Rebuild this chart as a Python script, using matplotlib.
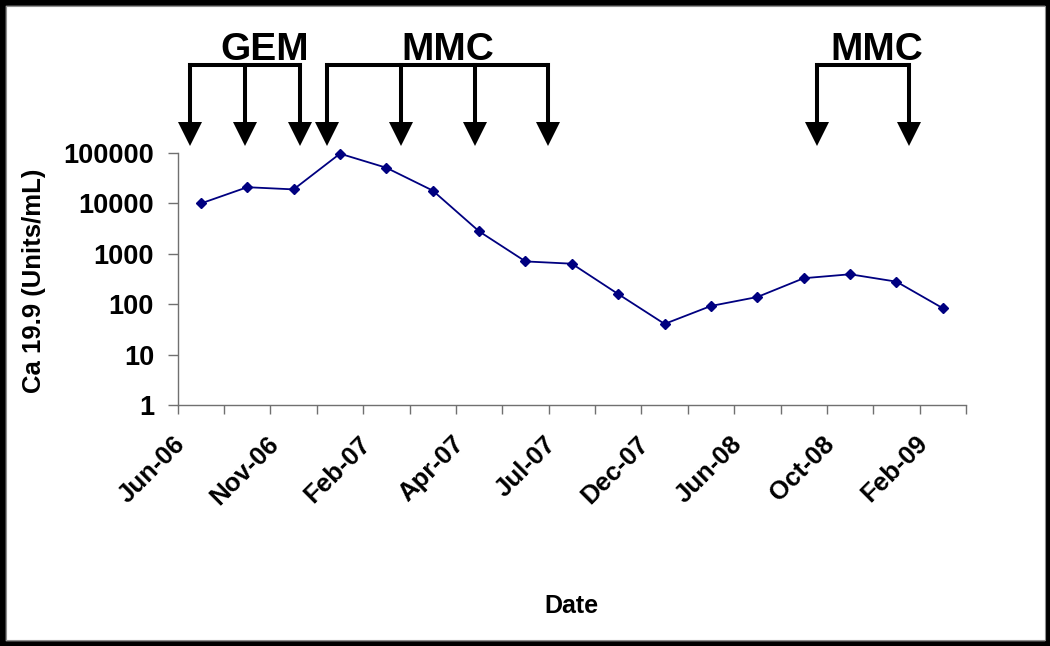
import numpy as np
import matplotlib
matplotlib.use("Agg")
import matplotlib.pyplot as plt
from matplotlib.transforms import blended_transform_factory, ScaledTranslation
from matplotlib.patches import Rectangle

# ---- data ----
ca199_values = [10000, 21000, 19000, 97000, 51000, 18000, 2800, 710, 640,
                160, 41, 93, 140, 330, 395, 282, 84]
date_labels = ["Jun-06", "Nov-06", "Feb-07", "Apr-07", "Jul-07",
               "Dec-07", "Jun-08", "Oct-08", "Feb-09"]
y_ticks = [1, 10, 100, 1000, 10000, 100000]
y_tick_labels = ["1", "10", "100", "1000", "10000", "100000"]
gem_doses = [-0.235, 0.957, 2.142]
mmc_doses_1 = [2.724, 4.312, 5.907, 7.496]
mmc_doses_2 = [13.29, 15.28]
regimen_names = ["GEM", "MMC", "MMC"]
regimen_label_x = [1.381, 5.315, 14.58]

FONT = "Liberation Sans"
plt.rcParams["font.family"] = [FONT, "DejaVu Sans"]
plt.rcParams["font.weight"] = "bold"

W, H = 1050, 646
fig = plt.figure(figsize=(W / 100, H / 100), dpi=100)
fig.patch.set_facecolor("white")

ax_l, ax_r, ax_t, ax_b = 177.7, 966.0, 153.0, 405.3
ax = fig.add_axes([ax_l / W, 1 - ax_b / H, (ax_r - ax_l) / W, (ax_b - ax_t) / H])

x = np.arange(len(ca199_values))
ax.plot(x, ca199_values, color="#000080", lw=1.3, marker="D", markersize=5,
        markeredgecolor="#000080", markerfacecolor="#000080", clip_on=False, zorder=3)

ax.set_yscale("log")
ax.set_ylim(1, 100000)
ax.set_yticks(y_ticks)
ax.set_yticklabels(y_tick_labels)
ax.yaxis.set_minor_locator(matplotlib.ticker.NullLocator())

ax.set_xlim(-0.5, len(ca199_values) - 0.5)
boundaries = np.arange(-0.5, len(ca199_values), 1.0)
ax.set_xticks(boundaries)
xlabels = []
for k in range(len(boundaries)):
    if k % 2 == 0 and k // 2 < len(date_labels):
        xlabels.append(date_labels[k // 2])
    else:
        xlabels.append("")
ax.set_xticklabels(xlabels, rotation=45, ha="right", va="center",
                   rotation_mode="anchor")

for s in ["top", "right"]:
    ax.spines[s].set_visible(False)
for s in ["left", "bottom"]:
    ax.spines[s].set_color("#707070")
    ax.spines[s].set_linewidth(1.0)

ax.tick_params(axis="x", direction="out", length=6.5, width=1.0, color="#707070",
               pad=18.5, labelsize=18.5)
ax.tick_params(axis="y", direction="out", length=7, width=1.0, color="#707070",
               pad=10, labelsize=19.5)
for lab in ax.get_xticklabels():
    lab.set_fontweight("bold")
    lab.set_transform(lab.get_transform() + ScaledTranslation(4 / 100, 0, fig.dpi_scale_trans))
for lab in ax.get_yticklabels():
    lab.set_fontweight("bold")

# axis titles
fig.text(34.5 / W, 1 - 280.5 / H, "Ca 19.9 (Units/mL)", rotation=90, ha="center",
         va="center", fontsize=18.5, fontweight="bold")
fig.text(571.8 / W, 1 - 613 / H, "Date", ha="center", va="baseline",
         fontsize=18, fontweight="bold")

# treatment arrows
tr = blended_transform_factory(ax.transData, ax.transAxes)
def yax(ypix):
    return (ax_b - ypix) / (ax_b - ax_t)

bar_y = yax(65)
shaft_bottom = yax(126)
head_center = yax(134.2)
lw_arrow = 2.9
for doses in [gem_doses, mmc_doses_1, mmc_doses_2]:
    ax.plot([doses[0], doses[-1]], [bar_y, bar_y], color="black", lw=lw_arrow,
            transform=tr, clip_on=False, solid_capstyle="projecting")
    for d in doses:
        ax.plot([d, d], [bar_y, shaft_bottom], color="black", lw=lw_arrow,
                transform=tr, clip_on=False, solid_capstyle="projecting")
        ax.plot([d], [head_center], marker="v", markersize=17.2, color="black",
                markeredgewidth=0, transform=tr, clip_on=False)

for name, lx in zip(regimen_names, regimen_label_x):
    ax.text(lx, yax(60), name, transform=tr, ha="center", va="baseline",
            fontsize=28, fontweight="bold", clip_on=False)

# figure border
fig.patches.append(Rectangle((0, 0), 1, 1, transform=fig.transFigure, fill=False,
                             lw=7.6, edgecolor="black", zorder=10))
fig.patches.append(Rectangle((5.5 / W, 6.5 / H), 1 - 11 / W, 1 - 12 / H,
                             transform=fig.transFigure, fill=False, lw=0.8,
                             edgecolor="#909090", zorder=10))

fig.savefig("out.png", dpi=100, facecolor="white")
